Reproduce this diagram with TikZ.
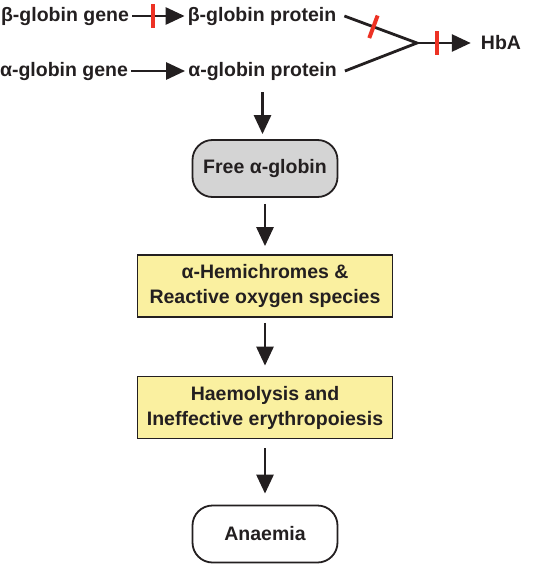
\documentclass[tikz,border=0pt]{standalone}
\usepackage{fontspec}
\setmainfont{Liberation Sans}
\usetikzlibrary{arrows.meta}
\definecolor{boxgray}{RGB}{212,212,212}
\definecolor{boxyellow}{RGB}{250,240,160}
\definecolor{inkblack}{RGB}{35,31,32}
\definecolor{blockred}{RGB}{237,50,36}
\tikzset{>={Triangle[length=19pt,width=17pt]}}

\begin{document}
\begin{tikzpicture}[x=1pt,y=-1pt]

        % txt = plain label, pill = rounded end box, redbar = block mark on a line
        \tikzstyle{every node}=[font=\fontsize{19.5}{25}\selectfont\bfseries, text=inkblack]
        \tikzstyle{txt}=[inner sep=3pt]
        \tikzstyle{pill}=[draw=inkblack, line width=1.8pt, rounded corners=20pt, minimum width=145pt, minimum height=57pt]
        \tikzstyle{yellowbox}=[draw=inkblack, line width=1.8pt, fill=boxyellow, minimum width=255pt, minimum height=62pt, align=center]
        \tikzstyle{flow}=[->, draw=inkblack, line width=2.8pt]
        \tikzstyle{redbar}=[fill=blockred, inner sep=0pt, minimum width=4pt, minimum height=24pt, sloped]
        \useasboundingbox (0,0) rectangle (533,565);

        \node[txt] (bgene) at (65,16) {β-globin gene};
        \node[txt] (bprot) at (262,16) {β-globin protein};
        \node[txt] (agene) at (64,71) {α-globin gene};
        \node[txt] (aprot) at (262.5,71) {α-globin protein};
        \coordinate (join) at (417,43);
        \node[txt] (hba) at (501,43) {HbA};

        \draw[flow] (bgene) -- node[redbar, pos=.4] {} (bprot);
        \draw[flow] (agene) -- (aprot);
        \draw[draw=inkblack, line width=2.8pt] ([xshift=5pt]bprot.east) -- node[redbar, pos=.4] {} (join) -- ([xshift=5pt]aprot.east);
        \draw[flow, shorten >=7pt] (join) -- node[redbar, pos=.33] {} (hba);

        \node[pill, fill=boxgray] (free) at (265,168.5) {Free α-globin};
        \node[yellowbox] (hemi) at (265,286) {α-Hemichromes \&\\Reactive oxygen species};
        \node[yellowbox] (haemo) at (265,407.5) {Haemolysis and\\Ineffective erythropoiesis};
        \node[pill, fill=white] (anaemia) at (265,534) {Anaemia};

        \draw[flow, shorten <=9pt, shorten >=5pt] (aprot.south) -- (aprot.south |- free.north);
        \draw[flow, shorten <=6pt, shorten >=8pt] (free) -- (hemi);
        \draw[flow, shorten <=5pt, shorten >=10pt] (hemi) -- (haemo);
        \draw[flow, shorten <=9pt, shorten >=11pt] (haemo) -- (anaemia);
\end{tikzpicture}
\end{document}
